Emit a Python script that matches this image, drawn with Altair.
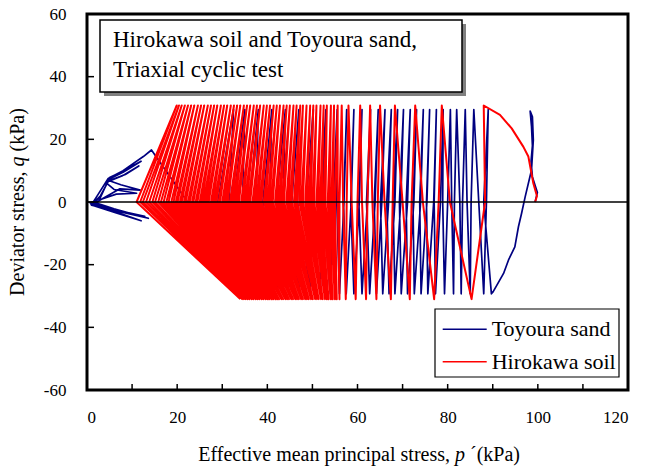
import altair as alt
import pandas as pd

# ---------------------------------------------------------------------------
# Axis ticks and series styling
# ---------------------------------------------------------------------------
P_TICKS = [0, 20, 40, 60, 80, 100, 120]
P_MINOR = [10, 20, 30, 40, 50, 60, 70, 80, 90, 100, 110]
Q_TICKS = [-60, -40, -20, 0, 20, 40, 60]
Q_MINOR = [-40, -20, 0, 20, 40]

SERIES = ["Toyoura sand", "Hirokawa soil"]
COLORS = ["#000080", "#ff0000"]

# ---------------------------------------------------------------------------
# Hirokawa soil: stress path p' (kPa) at the turning points of each cycle
# ---------------------------------------------------------------------------
red_load_p = [99.4, 99.8, 99.0, 97.9, 96.8, 94.2, 91.6]
red_load_q = [0.0, 1.9, 6.0, 14.5, 17.6, 23.5, 27.8]
RED_Q_TOP = 30.8
RED_Q_BOT = -31.0
red_top_p = [
    88.0, 78.7, 72.8, 68.3, 65.0, 62.8, 60.6, 58.0, 56.5,
    55.6, 54.8, 54.1, 53.2, 52.5, 51.8, 50.9, 50.2, 49.5, 48.7,
    47.9, 47.3, 46.5, 45.8, 45.0, 44.3, 43.6, 42.8, 42.1, 41.4,
    40.6, 39.9, 39.2, 38.4, 37.7, 37.0, 36.2, 35.5, 34.8, 34.0,
    33.3, 32.6, 31.9, 31.1, 30.4, 29.7, 28.9, 28.2, 27.5, 26.8,
    26.0, 25.3, 24.6, 23.8, 23.1, 22.4, 21.7, 21.0, 20.4, 19.9,
]
red_down0_p = [
    88.3, 78.0, 72.0, 67.8, 64.5, 62.2, 60.0, 57.6, 56.0,
    55.0, 54.2, 53.4, 52.5, 51.7, 50.9, 50.0, 49.2, 48.4, 47.5,
    46.6, 45.9, 45.0, 44.2, 43.3, 42.5, 41.7, 40.8, 40.0, 39.2,
    38.3, 37.5, 36.7, 35.8, 35.0, 34.2, 33.3, 32.5, 31.7, 30.8,
    30.0, 29.2, 28.3, 27.5, 26.6, 25.8, 25.0, 24.1, 23.3, 22.4,
    21.5, 20.6, 19.7, 18.7, 17.6, 16.4, 15.1, 13.8, 12.4, 11.0,
]
red_bot_p = [
    85.3, 77.0, 71.6, 67.4, 64.2, 61.9, 59.6, 57.4, 56.0,
    55.4, 55.0, 54.5, 54.1, 53.6, 53.2, 52.8, 52.3, 51.9, 51.4,
    51.0, 50.6, 50.1, 49.7, 49.2, 48.8, 48.4, 47.9, 47.5, 47.0,
    46.6, 46.2, 45.7, 45.3, 44.8, 44.4, 44.0, 43.5, 43.1, 42.6,
    42.2, 41.8, 41.3, 40.9, 40.4, 40.0, 39.6, 39.1, 38.7, 38.2,
    37.8, 37.4, 36.9, 36.5, 36.0, 35.6, 35.2, 34.8, 34.4, 34.0,
]
red_up0_p = [
    80.5, 74.5, 70.0, 66.0, 63.3, 61.0, 58.7, 56.8, 55.6,
    54.6, 53.8, 52.9, 52.1, 51.3, 50.4, 49.6, 48.8, 47.9, 47.1,
    46.3, 45.4, 44.6, 43.7, 42.9, 42.1, 41.2, 40.4, 39.6, 38.7,
    37.9, 37.1, 36.2, 35.4, 34.6, 33.7, 32.9, 32.1, 31.2, 30.4,
    29.5, 28.7, 27.9, 27.0, 26.2, 25.4, 24.5, 23.6, 22.8, 21.9,
    21.0, 20.1, 19.2, 18.1, 17.0, 15.8, 14.5, 13.1, 11.8,
]

# ---------------------------------------------------------------------------
# Toyoura sand: first loading and first unloading, then cycle turning points
# ---------------------------------------------------------------------------
blue_load_p = [99.4, 99.9, 98.8, 98.5, 98.8, 98.6, 98.3, 98.8, 99.0, 98.6,
               97.2, 96.4, 95.7, 94.9, 93.5, 92.4, 90.1, 89.7]
blue_load_q = [0.0, 3.0, 8.0, 13.0, 18.0, 24.0, 29.0, 27.2, 19.8, 10.2,
               1.7, -3.6, -7.9, -14.3, -18.5, -22.8, -28.6, -29.3]
BLUE_Q_TOP = 29.5
BLUE_Q_BOT = -29.3
blue_up0_p = [
    88.0, 86.9, 84.3, 82.7, 80.9, 78.9, 77.0, 75.3, 73.8, 72.3,
    70.8, 69.3, 67.9, 66.5, 65.1, 63.7, 62.0, 60.3, 58.5, 56.9,
    55.4, 52.2, 49.5, 46.7, 43.5, 40.5, 37.5, 34.5, 31.5,
]
blue_top_p = [
    89.0, 85.8, 83.9, 82.0, 80.6, 79.0, 77.5, 76.0, 74.6, 73.1,
    71.7, 70.2, 68.9, 67.5, 66.1, 64.6, 62.9, 61.0, 59.2, 57.6,
    55.5, 53.0, 50.2, 47.0, 44.0, 41.0, 38.0, 35.0, 32.5,
]
blue_down0_p = [
    88.6, 85.2, 83.3, 81.5, 80.0, 78.4, 76.9, 75.4, 74.0, 72.5,
    71.1, 69.6, 68.3, 66.9, 65.4, 63.9, 62.2, 60.4, 58.6, 57.0,
    54.6, 51.8, 48.6, 45.4, 42.0, 39.0, 36.0, 32.5, 29.0,
]
blue_bot_p = [
    88.0, 85.0, 83.0, 81.3, 79.3, 77.3, 75.6, 74.1, 72.6, 71.1,
    69.7, 68.3, 67.0, 65.6, 64.2, 62.7, 61.0, 59.2, 57.5, 56.0,
    54.0, 51.8, 49.6, 47.2, 44.8, 42.5, 40.0, 38.0, 36.5,
]
# butterfly loops near the origin once the sand has liquefied
blue_tail_p = [14.3, 12.5, 8.0, 4.7, 2.5, 1.4, 6.0, 13.6, 7.0, 1.0, 3.6, 7.3,
               11.8, 7.5, 4.5, 8.0, 12.0, 7.5, 5.0, 2.9, 0.7, 6.0, 12.0, 6.5,
               1.5, 3.0, 6.5, 11.0, 6.0, 4.2, 8.0, 11.5, 8.5, 4.8, 3.0, 1.2,
               7.0, 12.8, 6.0, 0.9, 2.4]
blue_tail_q = [16.6, 14.5, 10.0, 7.5, 2.5, 0.0, -2.2, -5.2, -3.0, -1.0, 1.2, 4.2,
               3.8, 5.5, 7.0, 9.5, 13.0, 9.5, 7.8, 1.2, -0.3, -3.0, -6.0, -3.5,
               -1.2, 0.8, 2.5, 2.8, 4.0, 6.2, 8.5, 11.5, 8.8, 6.8, 2.0, -0.6,
               -2.8, -4.6, -2.4, -0.8, 0.5]


def red_path():
    pts = list(zip(red_load_p, red_load_q))
    for i, top in enumerate(red_top_p):
        pts.append((top, RED_Q_TOP))
        pts.append((red_down0_p[i], 0.0))
        pts.append((red_bot_p[i], RED_Q_BOT))
        if i < len(red_up0_p):
            pts.append((red_up0_p[i], 0.0))
    return pd.DataFrame({"p": [a for a, _ in pts], "q": [b for _, b in pts],
                         "idx": range(len(pts)), "series": SERIES[1]})


def blue_path():
    pts = list(zip(blue_load_p, blue_load_q))
    for i, top in enumerate(blue_top_p):
        pts.append((blue_up0_p[i], 0.0))
        pts.append((top, BLUE_Q_TOP))
        pts.append((blue_down0_p[i], 0.0))
        pts.append((blue_bot_p[i], BLUE_Q_BOT))
    pts += list(zip(blue_tail_p, blue_tail_q))
    return pd.DataFrame({"p": [a for a, _ in pts], "q": [b for _, b in pts],
                         "idx": range(len(pts)), "series": SERIES[0]})


W, H = 541, 376
FONT = "Liberation Serif"

xs = alt.Scale(domain=[0, 120], nice=False, zero=False)
ys = alt.Scale(domain=[-60, 60], nice=False, zero=False)
x_axis = alt.Axis(values=P_TICKS, labelPadding=19, title=None,
                  labelExpr="toString(datum.value)")
y_axis = alt.Axis(values=Q_TICKS, labelPadding=21, title=None,
                  labelExpr="toString(datum.value)")

one = pd.DataFrame({"k": [0]})


def path_layer(df, color, width):
    return alt.Chart(df).mark_line(color=color, strokeWidth=width, clip=True,
                                   strokeJoin="round").encode(
        x=alt.X("p:Q", scale=xs, axis=x_axis),
        y=alt.Y("q:Q", scale=ys, axis=y_axis),
        order="idx:Q",
    )


blue_layer = path_layer(blue_path(), COLORS[0], 1.7)
red_layer = path_layer(red_path(), COLORS[1], 2.0)

zero_line = alt.Chart(pd.DataFrame({"q": [0]})).mark_rule(
    color="black", strokeWidth=1.6).encode(
    y=alt.Y("q:Q", scale=ys, axis=y_axis), x=alt.value(0), x2=alt.value(W))

x_ticks = alt.Chart(pd.DataFrame({"p": P_MINOR})).mark_rule(
    color="black", strokeWidth=1.5).encode(
    x=alt.X("p:Q", scale=xs, axis=x_axis), y=alt.value(H), y2=alt.value(H - 6))

y_ticks = alt.Chart(pd.DataFrame({"q": Q_MINOR})).mark_rule(
    color="black", strokeWidth=1.5).encode(
    y=alt.Y("q:Q", scale=ys, axis=y_axis), x=alt.value(0), x2=alt.value(7))


def rect(x, x2, y, y2, **kw):
    return alt.Chart(one).mark_rect(**kw).encode(
        x=alt.value(x), x2=alt.value(x2), y=alt.value(y), y2=alt.value(y2))


def text(s, x, y, size, align="left", baseline="alphabetic", style="normal", angle=0):
    return alt.Chart(one).mark_text(
        text=s, font=FONT, fontSize=size, align=align, baseline=baseline,
        fontStyle=style, angle=angle, color="black").encode(
        x=alt.value(x), y=alt.value(y))


def seg(x, x2, y, color):
    return alt.Chart(one).mark_rule(color=color, strokeWidth=1.6).encode(
        x=alt.value(x), x2=alt.value(x2), y=alt.value(y))


# title box with drop shadow
box = [
    rect(17, 379, 10, 82, fill="#808080"),
    rect(13, 375, 6, 78, fill="white", stroke="black", strokeWidth=1.5),
    text("Hirokawa soil and Toyoura sand,", 26, 32.7, 23),
    text("Triaxial cyclic test", 26, 62.5, 23),
]

# legend
legend = [
    rect(348, 532, 295, 363, fill="white", stroke="black", strokeWidth=1.2),
    seg(355.7, 399.7, 315.3, COLORS[0]),
    seg(355.7, 399.7, 347.7, COLORS[1]),
    text(SERIES[0], 404.7, 315.3, 22, baseline="middle"),
    text(SERIES[1], 404.7, 347.7, 22, baseline="middle"),
]

# axis titles with italic variables (word gaps set by the anchors)
titles = [
    text("Effective mean principal stress,", 363, 447, 20, align="right"),
    text("p", 368, 447, 20, style="italic"),
    text("\u00b4(kPa)", 383, 447, 20),
    text("Deviator stress,", -69, 157.5, 20, align="right",
         baseline="middle", angle=270),
    text("q", -69, 152.5, 20, baseline="middle", style="italic", angle=270),
    text("(kPa)", -69, 137.5, 20, baseline="middle", angle=270),
]

chart = alt.layer(
    blue_layer, red_layer, zero_line, x_ticks, y_ticks, *box, *legend, *titles
).properties(
    width=W, height=H,
    padding={"left": 87, "top": 14, "right": 23, "bottom": 78},
    autosize=alt.AutoSizeParams(type="none"),
).configure_view(
    stroke="black", strokeWidth=3
).configure_axis(
    labelFont=FONT, labelFontSize=17, labelColor="black",
    grid=False, domain=False, ticks=False,
)

chart.save("out.html", embed_options={"renderer": "svg", "actions": False})
